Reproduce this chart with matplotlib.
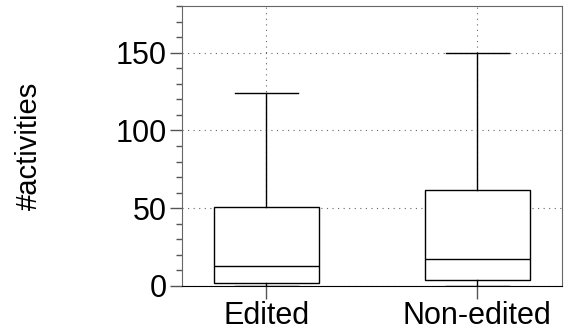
import matplotlib
matplotlib.use("Agg")
from matplotlib import pyplot as plt
from matplotlib.ticker import MultipleLocator

plt.rcParams['font.family'] = ['Liberation Sans', 'DejaVu Sans']

groups = ['Edited', 'Non-edited']
lower_whisker = [0, 0]
q1 = [2, 3.6]
medians = [13, 17.3]
q3 = [51, 62]
upper_whisker = [124, 150]

stats = []
for i, name in enumerate(groups):
    stats.append(dict(label=name, whislo=lower_whisker[i], q1=q1[i], med=medians[i],
                      q3=q3[i], whishi=upper_whisker[i], fliers=[]))

fig = plt.figure(figsize=(5.72, 3.36), dpi=100)
ax = fig.add_axes([0.318, 0.149, 0.664, 0.833])

ax.grid(True, linestyle=(0, (1, 4)), color='#666666', linewidth=0.8, zorder=0)
ax.set_axisbelow(True)

ax.bxp(stats, positions=[1, 2], widths=0.5, patch_artist=True, showfliers=False,
       boxprops=dict(facecolor='white', edgecolor='black', linewidth=1.0),
       medianprops=dict(color='black', linewidth=1.0),
       whiskerprops=dict(color='black', linewidth=1.0),
       capprops=dict(color='black', linewidth=1.0), capwidths=0.3)

ax.set_xlim(0.6, 2.4)
ax.set_ylim(0, 180)
ax.yaxis.set_major_locator(MultipleLocator(50))
ax.yaxis.set_minor_locator(MultipleLocator(10))
ax.set_xticks([1, 2])
ax.set_xticklabels(groups)

for side in ['left', 'top', 'right']:
    ax.spines[side].set_color('#666666')
ax.spines['bottom'].set_color('black')
ax.tick_params(axis='both', which='major', length=9, width=1, color='#555555',
               labelsize=22, pad=2, labelcolor='black')
ax.tick_params(axis='y', which='minor', length=4, width=1, color='#555555')
ax.set_ylabel('#activities', fontsize=21, labelpad=52)

fig.savefig('out.png', dpi=100)
